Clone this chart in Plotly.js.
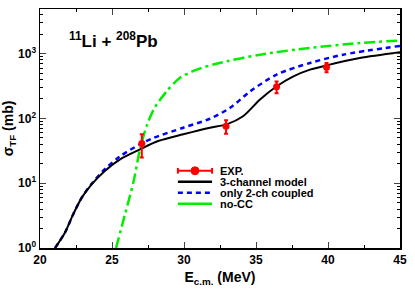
<!DOCTYPE html>
<html><head><meta charset="utf-8">
<script src="https://cdn.plot.ly/plotly-3.0.1.min.js"></script>
<style>html,body{margin:0;padding:0;background:#fff}#chart{width:415px;height:291px}</style>
</head><body><div id="chart"></div>
<script>
// Data
const modelE  = [21.04, 21.74, 22.3, 22.9, 23.6, 24.5, 25.56, 26.94, 28.2, 29.95, 31.8, 32.96, 34.1, 35.28, 36.44, 37.6, 38.75, 39.9, 42.2, 45];
const modelS  = [1.0, 1.74, 3.3, 6.0, 9.7, 15.5, 23.4, 33.3, 44.8, 57, 72, 81, 108, 196, 314, 447, 567, 660, 855, 1050];
const twoChE  = [21.04, 21.74, 22.3, 22.9, 23.6, 24.5, 25.56, 26.94, 27.87, 29.95, 31.8, 33.2, 34.6, 36.44, 38.75, 41.06, 45];
const twoChS  = [1.0, 1.74, 3.3, 6.0, 9.9, 16.5, 26, 40, 50, 72, 99, 146, 263, 477, 719, 966, 1320];
const noCCE   = [25.28, 25.9, 26.48, 26.94, 27.4, 27.95, 28.8, 29.72, 30.88, 32.3, 35.28, 38.75, 42.2, 45];
const noCCS   = [1.0, 3.3, 10.2, 33, 76, 145, 263, 424, 567, 705, 966, 1230, 1460, 1600];
const expE    = [27.07, 32.92, 36.43, 39.9];
const expS    = [41, 76, 308, 617];
const expErr  = [16, 18, 63, 100];
const yTickVals = [1, 10, 100, 1000];
const yTickText = ['10<sup>0</sup>', '10<sup>1</sup>', '10<sup>2</sup>', '10<sup>3</sup>'];
const legendNames = ['EXP.', '3-channel model', 'only 2-ch coupled', 'no-CC'];

const F = 'Liberation Sans, Arial, sans-serif';
const RED = '#ff0000', BLK = '#000000', BLU = '#0000ff', GRN = '#00ee00';
const GDASH = '11px,4px,3px,4px', BDASH = '5px,4px';

const traces = [
  {x: noCCE, y: noCCS, mode: 'lines', name: legendNames[3],
   line: {color: GRN, width: 2.5, dash: GDASH, shape: 'spline', smoothing: 0.8}},
  {x: twoChE, y: twoChS, mode: 'lines', name: legendNames[2],
   line: {color: BLU, width: 2.5, dash: BDASH, shape: 'spline', smoothing: 0.8}},
  {x: modelE, y: modelS, mode: 'lines', name: legendNames[1],
   line: {color: BLK, width: 2, shape: 'spline', smoothing: 0.8}},
  {x: expE, y: expS, mode: 'markers', name: legendNames[0],
   marker: {color: RED, size: 7},
   error_y: {type: 'data', array: expErr, color: RED, thickness: 2, width: 2}}
];

// manual legend (Plotly's legend rows are too tall for this figure)
const lx0 = 0.383, lx1 = 0.478, ltx = 0.494;
const rows = [0.323, 0.277, 0.231, 0.185];
const shapes = [
  {type: 'line', xref: 'paper', yref: 'paper', x0: lx0, x1: lx1, y0: rows[0], y1: rows[0], line: {color: RED, width: 2}},
  {type: 'line', xref: 'paper', yref: 'paper', x0: lx0, x1: lx0, y0: rows[0] - 0.012, y1: rows[0] + 0.012, line: {color: RED, width: 2}},
  {type: 'line', xref: 'paper', yref: 'paper', x0: lx1, x1: lx1, y0: rows[0] - 0.012, y1: rows[0] + 0.012, line: {color: RED, width: 2}},
  {type: 'circle', xref: 'paper', yref: 'paper', x0: (lx0 + lx1) / 2 - 0.011, x1: (lx0 + lx1) / 2 + 0.011,
   y0: rows[0] - 0.0167, y1: rows[0] + 0.0167, fillcolor: RED, line: {color: RED, width: 1}},
  {type: 'line', xref: 'paper', yref: 'paper', x0: lx0, x1: lx1, y0: rows[1], y1: rows[1], line: {color: BLK, width: 2.5}},
  {type: 'line', xref: 'paper', yref: 'paper', x0: lx0, x1: lx1, y0: rows[2], y1: rows[2], line: {color: BLU, width: 2.5, dash: BDASH}},
  {type: 'line', xref: 'paper', yref: 'paper', x0: lx0, x1: lx1, y0: rows[3], y1: rows[3], line: {color: GRN, width: 2.5}}
];
const annotations = legendNames.map((t, i) => ({
  xref: 'paper', yref: 'paper', x: ltx, y: rows[i], xanchor: 'left', yanchor: 'middle',
  showarrow: false, text: t, font: {family: F, size: 11, weight: 'bold', color: '#000'}
}));
annotations.push({xref: 'paper', yref: 'paper', x: 0.075, y: 0.87, xanchor: 'left', yanchor: 'middle',
  showarrow: false, text: '<sup>11</sup>Li + <sup>208</sup>Pb',
  font: {family: F, size: 17, weight: 'bold'}});

const layout = {
  width: 415, height: 291,
  margin: {l: 40, r: 15, t: 9, b: 43},
  paper_bgcolor: '#fff', plot_bgcolor: '#fff',
  font: {family: F, color: '#000', size: 12},
  showlegend: false,
  xaxis: {range: [20, 45], dtick: 5, tick0: 20, ticks: 'inside', ticklen: 6, tickwidth: 1,
    mirror: 'allticks', showline: true, linewidth: 1.5, linecolor: '#000', showgrid: false, zeroline: false,
    tickfont: {family: F, size: 12, weight: 'bold'},
    minor: {dtick: 2.5, ticks: 'inside', ticklen: 3, tickcolor: '#000', showgrid: false},
    title: {text: 'E<sub>c.m.</sub> (MeV)', font: {family: F, size: 14, weight: 'bold'}, standoff: 6}},
  yaxis: {type: 'log', range: [0, 3.69], tickvals: yTickVals, ticktext: yTickText,
    ticks: 'inside', ticklen: 6, tickwidth: 1,
    mirror: 'allticks', showline: true, linewidth: 1.5, linecolor: '#000', showgrid: false, zeroline: false,
    tickfont: {family: F, size: 12, weight: 'bold'},
    minor: {dtick: 'D1', ticks: 'inside', ticklen: 3, tickcolor: '#000', showgrid: false},
    title: {text: 'σ<sub>TF</sub> (mb)', font: {family: F, size: 14, weight: 'bold'}, standoff: 4}},
  shapes: shapes,
  annotations: annotations
};
Plotly.newPlot('chart', traces, layout, {displayModeBar: false, staticPlot: true});
</script></body></html>
